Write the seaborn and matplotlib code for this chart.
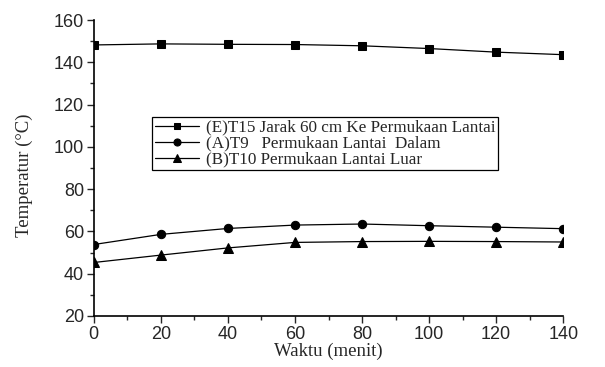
import matplotlib
matplotlib.use("Agg")
import matplotlib.pyplot as plt
import seaborn as sns
import pandas as pd
from matplotlib.ticker import MultipleLocator

sns.set_style("ticks")

waktu = [0, 20, 40, 60, 80, 100, 120, 140]
e_t15 = [148.2, 148.7, 148.5, 148.4, 147.8, 146.5, 144.8, 143.6]
a_t9 = [53.8, 58.6, 61.4, 63.0, 63.5, 62.7, 62.0, 61.3]
b_t10 = [45.3, 48.8, 52.2, 54.8, 55.2, 55.3, 55.2, 55.0]
labels = ["(E)T15 Jarak 60 cm Ke Permukaan Lantai",
          "(A)T9   Permukaan Lantai  Dalam",
          "(B)T10 Permukaan Lantai Luar"]
markers = ["s", "o", "^"]
msizes = [5.5, 6.0, 6.5]

fig = plt.figure(figsize=(6.05, 3.67), dpi=100)
ax = fig.add_axes([0.155, 0.139, 0.776, 0.8065])

for vals, lab, mk, ms in zip([e_t15, a_t9, b_t10], labels, markers, msizes):
    df = pd.DataFrame({"Waktu": waktu, "T": vals})
    sns.lineplot(data=df, x="Waktu", y="T", ax=ax, color="black", lw=0.9,
                 marker=mk, markersize=ms, markeredgecolor="black",
                 markerfacecolor="black", label=lab)

ax.set_xlim(0, 140)
ax.set_ylim(20, 160)
ax.xaxis.set_major_locator(MultipleLocator(20))
ax.xaxis.set_minor_locator(MultipleLocator(10))
ax.yaxis.set_major_locator(MultipleLocator(20))
ax.yaxis.set_minor_locator(MultipleLocator(10))
ax.tick_params(which="major", direction="out", length=5, width=1, labelsize=13, pad=2)
ax.tick_params(which="minor", direction="out", length=3, width=1)
for lbl in ax.get_xticklabels() + ax.get_yticklabels():
    lbl.set_fontfamily("Liberation Sans")
ax.spines["top"].set_visible(False)
ax.spines["right"].set_visible(False)
for s in ["left", "bottom"]:
    ax.spines[s].set_linewidth(1.2)
    ax.spines[s].set_color("black")

ax.set_xlabel("Waktu (menit)", fontfamily="Liberation Serif", fontsize=13.5, labelpad=0)
ax.set_ylabel("Temperatur (°C)", fontfamily="Liberation Serif", fontsize=13.5)
ax.yaxis.set_label_coords(-0.13, 0.476)

leg = ax.legend(loc="upper left", bbox_to_anchor=(0.124, 0.672), frameon=True,
                fancybox=False, edgecolor="black", framealpha=1,
                prop={"family": "Liberation Serif", "size": 12.3},
                handlelength=2.6, handletextpad=0.4, borderpad=0.15,
                labelspacing=0.0, borderaxespad=0, markerscale=0.85)
leg.get_frame().set_linewidth(0.9)

fig.savefig("out.png", dpi=100)
